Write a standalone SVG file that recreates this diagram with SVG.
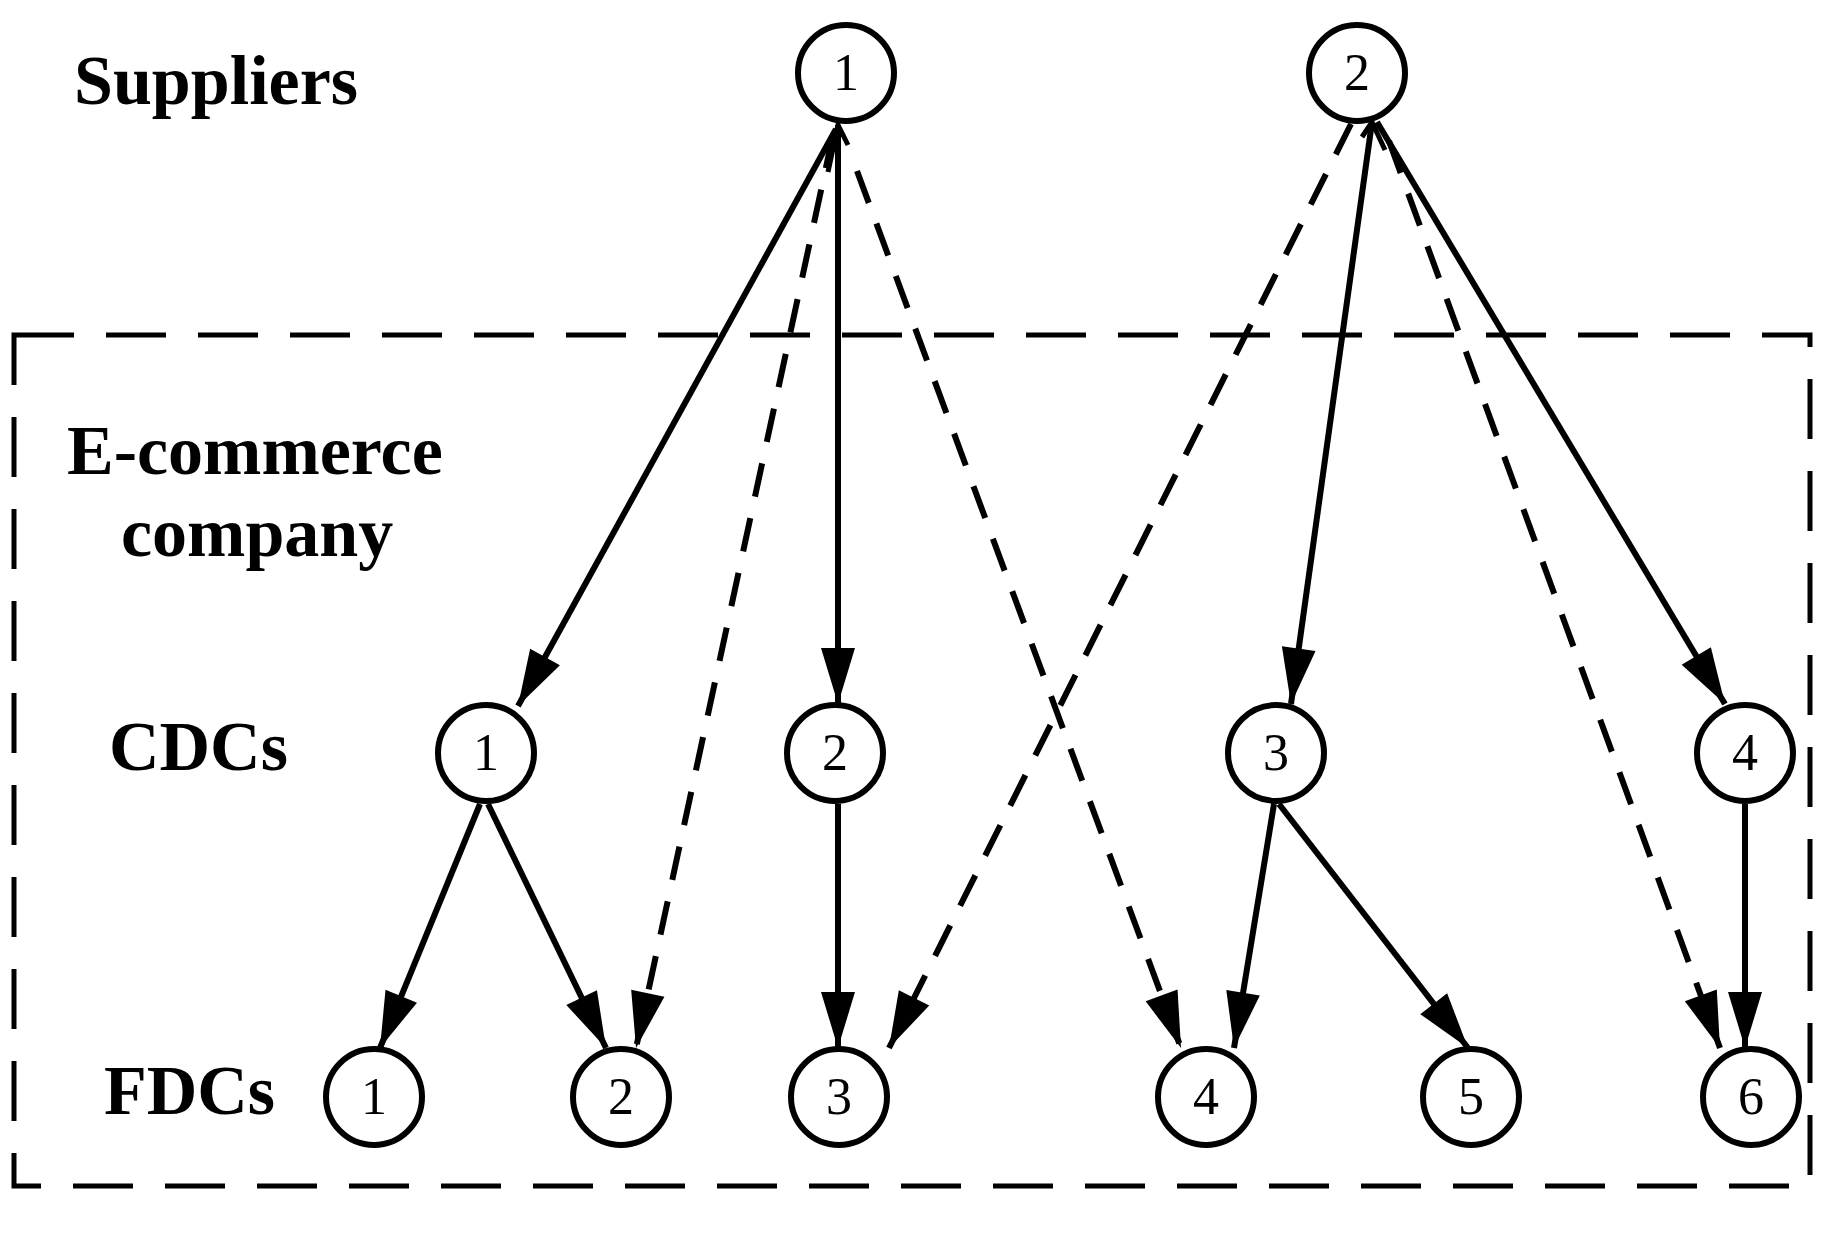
<svg xmlns="http://www.w3.org/2000/svg" width="1846" height="1248" viewBox="0 0 1846 1248">
<style>
.n circle{fill:#fff;stroke:#000;stroke-width:6}
.n text,.lb{font-family:"Liberation Serif",serif;text-anchor:middle;fill:#000}
.n text{font-size:52px}
.lb{font-weight:bold;font-size:70px;text-anchor:start}
.e line{stroke:#000;stroke-width:6;marker-end:url(#ah)}
.e .d{stroke-dasharray:34 22}
</style>
<defs>
<marker id="ah" markerUnits="userSpaceOnUse" markerWidth="70" markerHeight="40" viewBox="-60 -20 62 40" refX="0" refY="0" orient="auto">
<path d="M0,0 L-56,-17 L-56,17 Z" fill="#000"/>
</marker>
</defs>
<rect x="14" y="335" width="1796" height="851" fill="none" stroke="#000" stroke-width="5" stroke-dasharray="60 32"/>
<text class="lb" x="74" y="104">Suppliers</text>
<text class="lb" x="67" y="474">E-commerce</text>
<text class="lb" x="121" y="556">company</text>
<text class="lb" x="109" y="770">CDCs</text>
<text class="lb" x="104" y="1114">FDCs</text>
<g class="e" id="edges">
<line x1="836" y1="129" x2="518" y2="706"/>
<line x1="838" y1="125" x2="838" y2="704"/>
<line x1="1372" y1="122" x2="1291" y2="704"/>
<line x1="1377" y1="122" x2="1725" y2="704"/>
<line x1="480" y1="804" x2="380" y2="1048"/>
<line x1="488" y1="804" x2="606" y2="1048"/>
<line x1="838" y1="804" x2="838" y2="1048"/>
<line x1="1274" y1="804" x2="1234" y2="1048"/>
<line x1="1279" y1="804" x2="1468" y2="1048"/>
<line x1="1745" y1="804" x2="1745" y2="1048"/>
<line class="d" x1="833" y1="135" x2="636" y2="1048"/>
<line class="d" x1="857" y1="171" x2="1181" y2="1048"/>
<line class="d" x1="1351" y1="124" x2="889" y2="1048"/>
<line class="d" x1="1389" y1="141" x2="1720" y2="1048"/>
<path d="M828,172 L838,125 L848,145 M1362,137 L1372,122 L1385,150" fill="none" stroke="#000" stroke-width="5"/>
</g>
<g class="n" id="s1"><circle cx="846" cy="73" r="48"/><text x="846" y="90">1</text></g>
<g class="n" id="s2"><circle cx="1357" cy="73" r="48"/><text x="1357" y="90">2</text></g>
<g class="n" id="c1"><circle cx="486" cy="753" r="48"/><text x="486" y="770">1</text></g>
<g class="n" id="c2"><circle cx="835" cy="753" r="48"/><text x="835" y="770">2</text></g>
<g class="n" id="c3"><circle cx="1276" cy="753" r="48"/><text x="1276" y="770">3</text></g>
<g class="n" id="c4"><circle cx="1745" cy="753" r="48"/><text x="1745" y="770">4</text></g>
<g class="n" id="f1"><circle cx="374" cy="1097" r="48"/><text x="374" y="1114">1</text></g>
<g class="n" id="f2"><circle cx="621" cy="1097" r="48"/><text x="621" y="1114">2</text></g>
<g class="n" id="f3"><circle cx="839" cy="1097" r="48"/><text x="839" y="1114">3</text></g>
<g class="n" id="f4"><circle cx="1206" cy="1097" r="48"/><text x="1206" y="1114">4</text></g>
<g class="n" id="f5"><circle cx="1471" cy="1097" r="48"/><text x="1471" y="1114">5</text></g>
<g class="n" id="f6"><circle cx="1751" cy="1097" r="48"/><text x="1751" y="1114">6</text></g>
</svg>
